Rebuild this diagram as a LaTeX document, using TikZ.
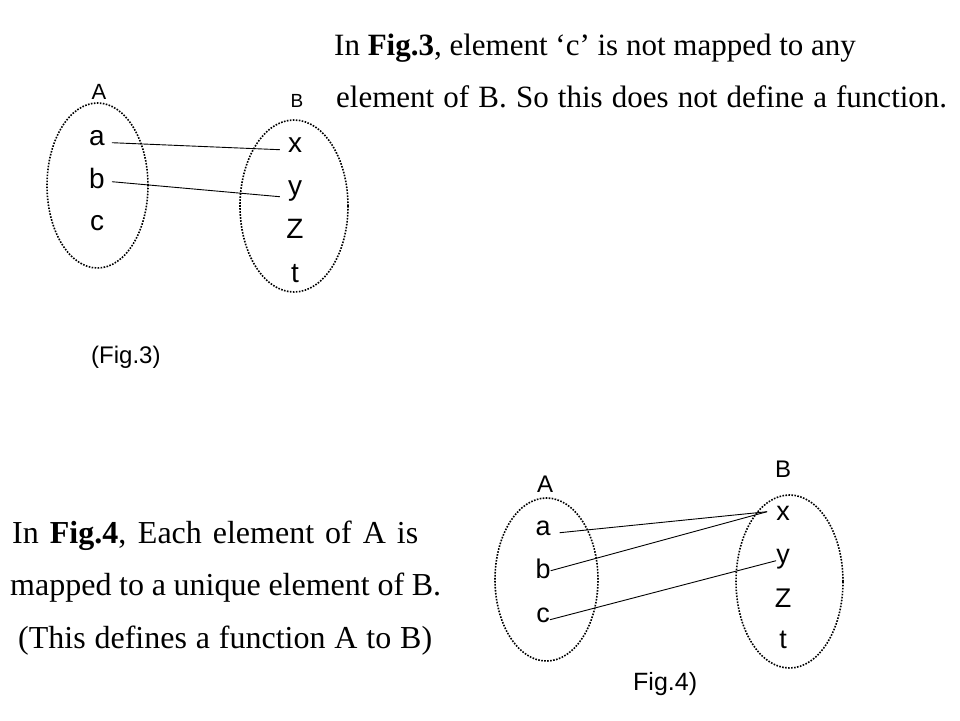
\documentclass[tikz,border=0pt]{standalone}
\usepackage{fontspec}
\setmainfont{Liberation Serif}
\newfontfamily\arialfont{Liberation Sans}
\usetikzlibrary{shapes.geometric}
\newcommand{\spreadline}[2]{\makebox[#1pt][s]{#2}}
\begin{document}
\begin{tikzpicture}[
      x=1pt, y=-1pt,
      set/.style={draw, ellipse, line width=1.6pt, dash pattern=on 1.6pt off 1.4pt, inner sep=0},
      elem/.style={inner sep=0, anchor=base, font=\arialfont\fontsize{28}{32}\selectfont},
      elemb/.style={elem, font=\arialfont\fontsize{27}{31}\selectfont},
      setname/.style={inner sep=0, anchor=base, font=\arialfont\fontsize{22}{26}\selectfont},
      caption/.style={inner sep=0, anchor=base west, font=\arialfont\fontsize{24}{28}\selectfont},
      para/.style={inner sep=0, anchor=base west, font=\fontsize{31}{36}\selectfont},
      parab/.style={para, font=\fontsize{32}{38}\selectfont},
      link/.style={line width=0.9pt}
    ]
    \useasboundingbox (0,0) rectangle (960,720);
    % Fig.3
    \node[set, minimum width=101, minimum height=165] (A3) at (97.5,185.5) {};
    \node[set, minimum width=108, minimum height=172] (B3) at (294,206) {};
    \node[setname] (A3name) at (99,99) {A};
    \node[setname, font=\arialfont\fontsize{19}{22}\selectfont] (B3name) at (297,107) {B};
    \node[elem] (a3) at (97,145) {a};
    \node[elem] (b3) at (97,188) {b};
    \node[elem] (c3) at (97,230) {c};
    \node[elem] (x3) at (295,152) {x};
    \node[elem] (y3) at (295,195) {y};
    \node[elem] (z3) at (295,238) {Z};
    \node[elem] (t3) at (295,282) {t};
    \draw[link] ([xshift=7]a3.mid east) -- ([xshift=-8]x3.mid west);
    \draw[link] ([xshift=7, yshift=4]b3.mid east) -- ([xshift=-8, yshift=-4]y3.mid west);
    \node[caption] (cap3) at (91,363) {(Fig.3)};
    \node[para] (txt3a) at (334,55) {In \textbf{Fig.3}, element ‘c’ is not mapped to any};
    \node[para] (txt3b) at (336,107) {\spreadline{611}{element of B. So this does not define a function.}};
    % Fig.4
    \node[set, minimum width=103, minimum height=163] (A4) at (546.5,579.5) {};
    \node[set, minimum width=107, minimum height=173] (B4) at (789.5,581.5) {};
    \node[setname, font=\arialfont\fontsize{24}{28}\selectfont] (A4name) at (545,492) {A};
    \node[setname, font=\arialfont\fontsize{24}{28}\selectfont] (B4name) at (783,477) {B};
    \node[elemb] (a4) at (543,535) {a};
    \node[elemb] (b4) at (543,578) {b};
    \node[elemb] (c4) at (543,622) {c};
    \node[elemb] (x4) at (783,520) {x};
    \node[elemb] (y4) at (783,563) {y};
    \node[elemb] (z4) at (783,607) {Z};
    \node[elemb] (t4) at (783,648) {t};
    \coordinate (xin) at ([xshift=-9, yshift=6]x4.mid west);
    \draw[link] ([xshift=9]a4.mid east) -- (xin);
    \draw[link] ([xshift=0, yshift=5]b4.mid east) -- (xin);
    \draw[link] ([xshift=0]c4.mid east) -- (y4.mid west);
    \node[caption, font=\arialfont\fontsize{25}{29}\selectfont] (cap4) at (633,690) {Fig.4)};
    \node[parab] (txt4a) at (12,543) {\spreadline{406}{In \textbf{Fig.4}, Each element of A is}};
    \node[parab] (txt4b) at (10,595) {\spreadline{431}{mapped to a unique element of B.}};
    \node[parab] (txt4c) at (18,648) {\spreadline{414}{(This defines a function A to B)}};
    \end{tikzpicture}
\end{document}
